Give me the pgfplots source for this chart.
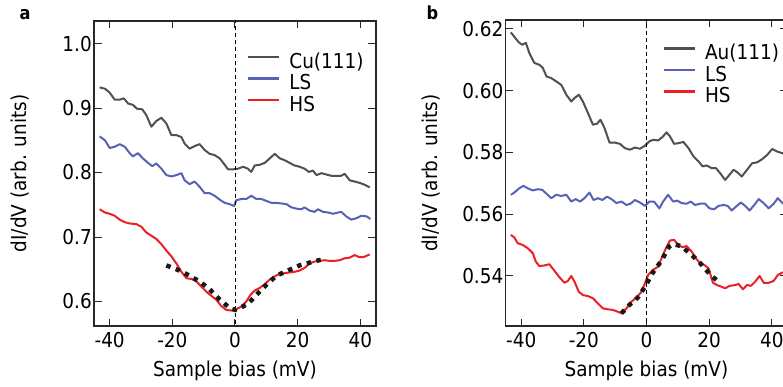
\documentclass[border=0pt]{standalone}
\usepackage{fontspec}
\setmainfont{DejaVu Sans Condensed}
\usepackage{pgfplots}
\pgfplotsset{compat=1.18}
\definecolor{cgray}{RGB}{80,80,80}
\definecolor{cblue}{RGB}{88,98,180}
\definecolor{cred}{RGB}{236,32,36}
\definecolor{cframe}{RGB}{40,40,40}
\pgfplotsset{
 panel/.style={
  scale only axis, width=282pt,
  xmin=-45, xmax=45,
  xtick={-40,-20,0,20,40}, xticklabels={-40,-20,0,20,40},
  tick align=inside, major tick length=7.5pt,
  every tick/.style={cframe, line width=1pt},
  axis line style={line width=1.2pt, cframe},
  xticklabel style={inner ysep=6pt},
  yticklabel style={inner xsep=2pt},
  xlabel={Sample bias (mV)},
  ylabel={dI/dV (arb. units)},
  xlabel style={at={(axis description cs:0.5,-0.1656)}, anchor=base},
  ylabel style={at={(axis description cs:-0.241,0.5)}, anchor=base},
  legend cell align=left,
  legend image code/.code={\draw[##1, line width=2.2pt] (0pt,6.5pt) -- (31pt,6.5pt);},
  legend style={anchor=north west, draw=none, fill=none, inner sep=0pt,
    row sep=3.5pt, column sep=9pt,
    nodes={inner sep=0pt, text height=14pt, text depth=4pt}},
 },
 curve/.style={line width=2pt, line join=round, mark=none},
 fit/.style={black!90, line width=4.5pt, dash pattern=on 4.5pt off 5.5pt, forget plot},
 zero/.style={black, line width=0.9pt, dash pattern=on 4pt off 3pt, forget plot},
}
\begin{document}
\begin{tikzpicture}[font=\fontsize{20.5}{24}\selectfont]
% ---------------- panel a ----------------
\begin{axis}[panel, at={(94pt,60pt)}, anchor=south west, height=305pt,
  ymin=0.562, ymax=1.035,
  ytick={0.6,0.7,0.8,0.9,1.0}, yticklabels={0.6,0.7,0.8,0.9,1.0},
  legend style={at={(axis description cs:0.5426,0.891)}}]
\addplot[curve, cgray] coordinates {
(-43.2,0.932) (-41.5,0.930) (-40,0.924) (-38.4,0.913) (-36.8,0.913) (-35.5,0.915)
(-34.1,0.907) (-32.6,0.905) (-31.3,0.899) (-29.6,0.898) (-28.3,0.889) (-26.7,0.871)
(-25.1,0.880) (-23.5,0.885) (-21.9,0.876) (-20.3,0.858) (-18.7,0.858) (-17.1,0.855)
(-16.1,0.845) (-14.5,0.837) (-12.9,0.841) (-11.3,0.844) (-9.7,0.835) (-8.1,0.829)
(-6.5,0.827) (-4.9,0.822) (-3.6,0.814) (-2.2,0.805) (-0.6,0.805) (1.0,0.806)
(2.6,0.809) (4.1,0.806) (5.2,0.801) (6.3,0.811) (7.9,0.812) (9.5,0.815)
(11.1,0.822) (12.7,0.829) (14.3,0.822) (15.9,0.819) (17.4,0.815) (19.0,0.811)
(20.6,0.809) (22.2,0.806) (23.6,0.801) (24.9,0.803) (26.0,0.796) (27.6,0.799)
(29.1,0.797) (30.7,0.795) (32.3,0.795) (33.9,0.795) (35.0,0.798) (36.6,0.788)
(38.2,0.786) (39.8,0.784) (41.4,0.781) (43.0,0.777)};
\addlegendentry{Cu(111)}
\addplot[curve, cblue] coordinates {
(-43.2,0.856) (-41.5,0.850) (-40,0.838) (-38.4,0.840) (-36.8,0.844) (-35.2,0.840)
(-33.6,0.830) (-32.6,0.825) (-31.0,0.830) (-29.4,0.822) (-27.8,0.815) (-26.4,0.810)
(-25.1,0.814) (-23.5,0.806) (-21.9,0.796) (-20.3,0.794) (-18.7,0.796) (-17.1,0.799)
(-16.1,0.788) (-14.5,0.782) (-12.9,0.786) (-11.3,0.778) (-9.7,0.768) (-8.1,0.768)
(-6.5,0.764) (-4.9,0.758) (-3.3,0.753) (-1.7,0.751) (-0.3,0.748) (0.4,0.757)
(2.0,0.759) (3.6,0.759) (5.2,0.764) (6.8,0.759) (8.4,0.759) (10.0,0.756)
(11.6,0.753) (13.2,0.753) (14.8,0.752) (16.4,0.751) (18.0,0.746) (19.6,0.744)
(21.2,0.743) (22.2,0.746) (23.8,0.741) (25.4,0.739) (26.5,0.743) (28.1,0.739)
(29.7,0.738) (31.3,0.736) (32.9,0.738) (33.9,0.739) (35.5,0.732) (37.1,0.727)
(38.7,0.729) (40.3,0.733) (42.0,0.732) (43.2,0.728)};
\addlegendentry{LS}
\addplot[curve, cred] coordinates {
(-43.2,0.743) (-41.5,0.738) (-40,0.736) (-38.4,0.733) (-36.8,0.727) (-35.2,0.723)
(-33.6,0.721) (-31.5,0.720) (-29.9,0.716) (-28.3,0.707) (-26.7,0.702) (-25.1,0.697)
(-23.5,0.689) (-21.9,0.679) (-20.3,0.670) (-18.7,0.659) (-17.1,0.646) (-15.5,0.636)
(-13.9,0.635) (-12.3,0.631) (-10.7,0.623) (-9.1,0.615) (-7.6,0.609) (-6.0,0.603)
(-4.4,0.593) (-2.8,0.587) (-1.2,0.586) (0.4,0.588) (2.0,0.592) (3.6,0.600)
(4.9,0.610) (6.3,0.617) (7.9,0.621) (9.5,0.627) (11.1,0.634) (12.7,0.639)
(14.3,0.643) (15.9,0.644) (17.4,0.645) (19.0,0.646) (20.6,0.648) (22.2,0.652)
(23.8,0.659) (25.4,0.662) (27.0,0.663) (28.6,0.664) (30.2,0.663) (31.8,0.663)
(33.4,0.664) (35.0,0.667) (36.6,0.668) (38.2,0.672) (39.6,0.669) (41.1,0.669)
(43.0,0.673)};
\addlegendentry{HS}
\addplot[zero] coordinates {(0,0.5) (0,1.1)};
\addplot[fit] coordinates {
(-21.9,0.656) (-17.7,0.648) (-14.5,0.640) (-11.3,0.631) (-8.1,0.619) (-4.9,0.603)
(-1.7,0.590) (0,0.587) (1.5,0.590) (4.1,0.596) (6.8,0.610) (10.0,0.626)
(13.2,0.640) (16.4,0.647) (20.6,0.656) (24.4,0.661) (27.6,0.665)};
\end{axis}
% ---------------- panel b ----------------
\begin{axis}[panel, at={(505.5pt,60pt)}, anchor=south west, height=306pt,
  ymin=0.5238, ymax=0.6229,
  ytick={0.54,0.56,0.58,0.60,0.62}, yticklabels={0.54,0.56,0.58,0.60,0.62},
  legend style={at={(axis description cs:0.5574,0.9157)}}]
\addplot[curve, cgray] coordinates {
(-43.3,0.6189) (-41.9,0.6171) (-40.6,0.6155) (-39.6,0.6149) (-38.5,0.6155) (-37.4,0.6122)
(-35.8,0.6090) (-34.2,0.6084) (-33.1,0.6074) (-31.9,0.6046) (-30.4,0.6041) (-28.8,0.6030)
(-27.2,0.6019) (-25.6,0.5987) (-24.0,0.5965) (-23.0,0.5976) (-21.6,0.5987) (-20.3,0.5965)
(-18.7,0.5928) (-17.1,0.5890) (-15.8,0.5893) (-14.7,0.5906) (-13.4,0.5879) (-11.8,0.5832)
(-10.1,0.5832) (-8.5,0.5828) (-6.9,0.5814) (-5.3,0.5809) (-3.7,0.5816) (-2.1,0.5812)
(-0.5,0.5822) (0.9,0.5836) (2.1,0.5841) (3.7,0.5839) (5.1,0.5850) (6.4,0.5865)
(7.5,0.5852) (8.8,0.5828) (10.1,0.5830) (11.8,0.5834) (13.4,0.5814) (15.0,0.5787)
(16.6,0.5771) (17.9,0.5755) (19.2,0.5758) (20.8,0.5749) (22.2,0.5749) (23.5,0.5733)
(25.1,0.5711) (26.5,0.5728) (27.8,0.5744) (29.1,0.5735) (30.4,0.5722) (32.1,0.5744)
(33.7,0.5765) (35.3,0.5768) (36.9,0.5778) (38.5,0.5792) (40.1,0.5811) (41.7,0.5803)
(43.3,0.5798) (44.6,0.5790)};
\addlegendentry{Au(111)}
\addplot[curve, cblue] coordinates {
(-43.3,0.5663) (-42.2,0.5670) (-40.6,0.5684) (-39.3,0.5692) (-37.9,0.5684) (-36.3,0.5677)
(-34.7,0.5681) (-33.3,0.5679) (-32.1,0.5668) (-30.4,0.5652) (-28.8,0.5663) (-27.2,0.5659)
(-25.6,0.5663) (-24.0,0.5641) (-22.6,0.5649) (-21.2,0.5641) (-19.8,0.5652) (-18.2,0.5670)
(-16.9,0.5646) (-15.5,0.5652) (-14.1,0.5646) (-12.6,0.5657) (-11.2,0.5649) (-9.6,0.5636)
(-8.0,0.5641) (-6.4,0.5630) (-5.1,0.5634) (-3.7,0.5646) (-2.1,0.5638) (-0.5,0.5627)
(0.9,0.5641) (2.4,0.5641) (4.1,0.5619) (5.3,0.5641) (6.9,0.5663) (8.5,0.5641)
(9.8,0.5644) (11.2,0.5636) (12.8,0.5634) (14.1,0.5641) (15.5,0.5630) (17.1,0.5634)
(18.7,0.5634) (20.1,0.5619) (21.6,0.5616) (23.0,0.5627) (24.6,0.5630) (25.9,0.5627)
(27.2,0.5612) (28.6,0.5625) (30.1,0.5638) (31.5,0.5627) (32.9,0.5612) (34.4,0.5630)
(35.8,0.5649) (37.4,0.5636) (39.0,0.5619) (40.6,0.5634) (41.9,0.5652) (43.6,0.5634)
(44.6,0.5640)};
\addlegendentry{LS}
\addplot[curve, cred] coordinates {
(-43.3,0.5533) (-42.2,0.5525) (-41.1,0.5506) (-39.6,0.5501) (-37.9,0.5490) (-36.3,0.5474)
(-35.3,0.5446) (-34.2,0.5432) (-32.6,0.5434) (-31.0,0.5438) (-29.4,0.5417) (-27.8,0.5396)
(-26.2,0.5378) (-25.1,0.5384) (-24.0,0.5400) (-23.0,0.5382) (-21.6,0.5349) (-20.3,0.5338)
(-18.7,0.5335) (-17.1,0.5328) (-15.5,0.5311) (-13.9,0.5295) (-12.3,0.5292) (-10.7,0.5290)
(-9.1,0.5284) (-8.0,0.5279) (-6.4,0.5295) (-4.8,0.5317) (-3.2,0.5330) (-1.6,0.5349)
(-0.5,0.5376) (0.5,0.5403) (2.1,0.5420) (3.7,0.5430) (4.8,0.5457) (6.2,0.5490)
(7.5,0.5515) (8.8,0.5517) (10.1,0.5501) (11.5,0.5493) (12.8,0.5497) (14.4,0.5479)
(15.8,0.5457) (17.1,0.5441) (18.4,0.5436) (19.8,0.5425) (21.2,0.5378) (22.4,0.5371)
(24.0,0.5365) (25.1,0.5360) (26.5,0.5368) (28.0,0.5370) (29.4,0.5374) (30.8,0.5357)
(32.1,0.5371) (33.3,0.5368) (34.7,0.5382) (36.1,0.5400) (37.4,0.5378) (39.0,0.5378)
(40.6,0.5384) (41.9,0.5403) (43.3,0.5411) (44.6,0.5408)};
\addlegendentry{HS}
\addplot[zero] coordinates {(0,0.5) (0,0.7)};
\addplot[fit] coordinates {
(-8.0,0.5279) (-5.5,0.5306) (-2.8,0.5330) (-0.5,0.5365) (2.1,0.5412) (4.8,0.5450)
(7.2,0.5495) (8.5,0.5503) (11.0,0.5497) (14.0,0.5472) (17.0,0.5443) (20.3,0.5405)
(23.3,0.5378)};
\end{axis}
\node[anchor=base west, font=\fontsize{18}{20}\selectfont\bfseries] at (16pt,366pt) {a};
\node[anchor=base west, font=\fontsize{18}{20}\selectfont\bfseries] at (423pt,366pt) {b};
\pgfresetboundingbox
\useasboundingbox (0pt,0pt) rectangle (783pt,386pt);
\end{tikzpicture}
\end{document}
